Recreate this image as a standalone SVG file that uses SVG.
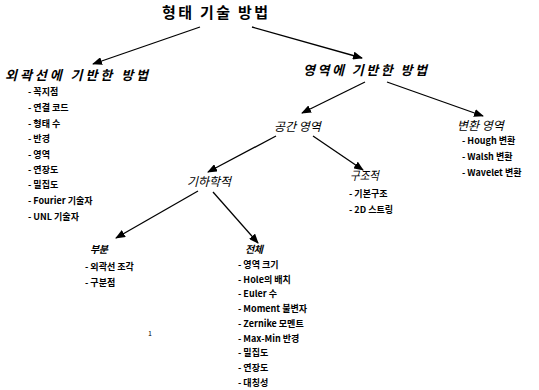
<svg xmlns="http://www.w3.org/2000/svg" width="539" height="390" viewBox="0 0 539 390">
<style>
text{font-family:"Noto Sans CJK KR","Liberation Sans",sans-serif;fill:#000}
.t{font-size:15px;font-weight:bold}
.h1{font-size:13px;font-weight:bold;font-style:italic}
.h2{font-size:12px;font-style:italic}
.h3{font-size:10px;font-weight:bold;font-style:italic}
.i{font-size:9px;font-weight:bold}
.c{stroke:#000;stroke-width:1.3;fill:none;marker-end:url(#ah)}
</style>
<defs>
<marker id="ah" markerUnits="userSpaceOnUse" markerWidth="10" markerHeight="8" refX="9" refY="4" orient="auto">
<path d="M0,0 L10,4 L0,8 Z" fill="#000"/>
</marker>
</defs>
<rect width="539" height="390" fill="#fff"/>
<g id="connectors">
<line class="c" x1="200" y1="27" x2="93" y2="64"/>
<line class="c" x1="252" y1="27" x2="362" y2="58"/>
<line class="c" x1="365" y1="82" x2="302" y2="113"/>
<line class="c" x1="387" y1="82" x2="483" y2="116"/>
<line class="c" x1="313" y1="136" x2="363" y2="170"/>
<line class="c" x1="276" y1="136" x2="208" y2="172"/>
<line class="c" x1="198" y1="191" x2="116" y2="238"/>
<line class="c" x1="213" y1="192" x2="258" y2="243"/>
</g>
<g id="root"><text class="t" x="162" y="18" textLength="106" lengthAdjust="spacing">형태 기술 방법</text></g>
<g id="contour">
<text class="h1" x="5" y="80" textLength="143" lengthAdjust="spacing">외곽선에 기반한 방법</text>
<text class="i" x="28" y="95">- 꼭지점</text>
<text class="i" x="28" y="111">- 연결 코드</text>
<text class="i" x="28" y="127">- 형태 수</text>
<text class="i" x="28" y="142">- 반경</text>
<text class="i" x="28" y="158">- 영역</text>
<text class="i" x="28" y="173">- 연장도</text>
<text class="i" x="28" y="188">- 밀집도</text>
<text class="i" x="28" y="204">- Fourier 기술자</text>
<text class="i" x="28" y="220">- UNL 기술자</text>
</g>
<g id="region"><text class="h1" x="303" y="75" textLength="124" lengthAdjust="spacing">영역에 기반한 방법</text></g>
<g id="spatial"><text class="h2" x="274" y="131">공간 영역</text></g>
<g id="transform">
<text class="h2" x="457" y="130">변환 영역</text>
<text class="i" x="462" y="144">- Hough 변환</text>
<text class="i" x="462" y="160">- Walsh 변환</text>
<text class="i" x="462" y="176">- Wavelet 변환</text>
</g>
<g id="structural">
<text class="h2" x="350" y="180" textLength="29" lengthAdjust="spacingAndGlyphs">구조적</text>
<text class="i" x="349" y="197">- 기본구조</text>
<text class="i" x="349" y="213">- 2D 스트링</text>
</g>
<g id="geometric"><text class="h2" x="187" y="186">기하학적</text></g>
<g id="partial">
<text class="h3" x="90" y="253" textLength="18" lengthAdjust="spacing">부분</text>
<text class="i" x="85" y="270">- 외곽선 조각</text>
<text class="i" x="85" y="286">- 구분점</text>
</g>
<g id="global">
<text class="h3" x="245" y="253" textLength="18" lengthAdjust="spacing">전체</text>
<text class="i" x="238" y="268">- 영역 크기</text>
<text class="i" x="238" y="283">- Hole의 배치</text>
<text class="i" x="238" y="297">- Euler 수</text>
<text class="i" x="238" y="312">- Moment 불변자</text>
<text class="i" x="238" y="327">- Zernike 모멘트</text>
<text class="i" x="238" y="342">- Max-Min 반경</text>
<text class="i" x="238" y="356">- 밀집도</text>
<text class="i" x="238" y="371">- 연장도</text>
<text class="i" x="238" y="386">- 대칭성</text>
</g>
<text x="148" y="336" style="font-size:7px">1</text>
</svg>
